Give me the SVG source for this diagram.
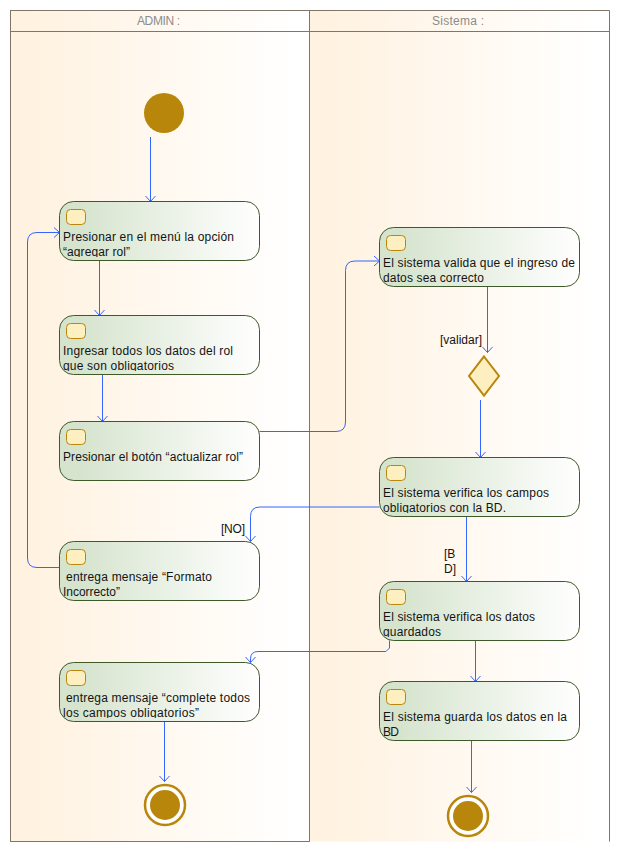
<svg xmlns="http://www.w3.org/2000/svg" width="620" height="852" viewBox="0 0 620 852">
<style>
.lane{stroke:#7f7568;stroke-width:1;fill:none}
.hd{font:12px "Liberation Sans",Arial,sans-serif;fill:#8c8c8c}
.t{font:12px "Liberation Sans",Arial,sans-serif;fill:#141414}
.box{fill:url(#ng);stroke:#3f5a2a;stroke-width:1}
.ic{fill:#feefc0;stroke:#b8860b;stroke-width:1}
.c{fill:none;stroke:#3366ff;stroke-width:1;marker-end:url(#a)}
.bl{fill:#b8860b}
</style>
<defs>
<linearGradient id="lg" gradientUnits="objectBoundingBox" x1="0" y1="0" x2="1" y2="0"><stop offset="0.05" stop-color="#fff2e0"/><stop offset="0.95" stop-color="#ffffff"/></linearGradient>
<linearGradient id="ng" x1="0" y1="0" x2="1" y2="0"><stop offset="0.1" stop-color="#d6e4ce"/><stop offset="1" stop-color="#ffffff"/></linearGradient>
<marker id="a" markerUnits="userSpaceOnUse" markerWidth="14" markerHeight="14" refX="6.5" refY="6.5" orient="auto"><path d="M1 1.5L6.5 6.5L1 11.5" fill="none" stroke="#3366ff" stroke-width="1"/></marker>
<clipPath id="c1"><rect x="59.5" y="201.5" width="200" height="55.5"/></clipPath>
<clipPath id="c2"><rect x="59.5" y="315.5" width="200" height="55.5"/></clipPath>
<clipPath id="c4"><rect x="59.5" y="541.5" width="200" height="59"/></clipPath>
<clipPath id="c5"><rect x="59.5" y="662.5" width="200" height="55.5"/></clipPath>
<clipPath id="s2c"><rect x="379.5" y="457.5" width="200" height="55.5"/></clipPath>
<clipPath id="s3c"><rect x="379.5" y="581.5" width="200" height="55.5"/></clipPath>
</defs>
<g id="lane-admin">
<rect x="10.5" y="10.5" width="299" height="831" fill="url(#lg)"/>
<rect class="lane" x="10.5" y="10.5" width="299" height="831"/>
<path class="lane" d="M10.5 31.5H309.5"/>
<text class="hd" x="137" y="25" textLength="43">ADMIN :</text>
</g>
<g id="lane-sistema">
<rect x="309.5" y="10.5" width="300" height="831" fill="url(#lg)"/>
<path class="lane" d="M309.5 10.5H609.5V841.5M309.5 31.5H609.5M309.5 10.5V841.5"/>
<text class="hd" x="432" y="25" textLength="52">Sistema :</text>
</g>
<g id="connectors">
<path class="c" d="M150.5 137V201.5"/>
<path class="c" d="M99.5 260.5V315.5"/>
<path class="c" d="M102.5 374.5V421.5"/>
<path class="c" d="M259.5 431.5H336Q345.5 431.5 345.5 422V270.5Q345.5 261 355 261H379.5"/>
<path class="c" d="M487.5 286.5V352.5"/>
<path class="c" d="M480.5 400V457.5"/>
<path class="c" d="M379.5 507H260Q250.5 507 250.5 516.5V541.5"/>
<path class="c" d="M466.5 516.5V581.5"/>
<path class="c" d="M389.5 640.5V648L386 651.5H258Q250.5 651.5 250.5 659V662.5"/>
<path class="c" d="M475.5 640.5V681.5"/>
<path class="c" d="M471.5 740.5V792.5"/>
<path class="c" d="M59.5 567.5H37Q27.5 567.5 27.5 558V242Q27.5 232.5 37 232.5H59.5"/>
<path class="c" d="M164.5 721.5V781.5"/>
</g>
<g id="start"><circle class="bl" cx="164" cy="113" r="20"/></g>
<g id="n1"><rect class="box" x="59.5" y="201.5" width="200" height="59" rx="14"/><rect class="ic" x="66.5" y="209.5" width="19" height="15" rx="4"/>
<g clip-path="url(#c1)"><text class="t" x="63" y="241" textLength="171">Presionar en el menú la opción</text><text class="t" x="63" y="256" textLength="67">“agregar rol”</text></g></g>
<g id="n2"><rect class="box" x="59.5" y="315.5" width="200" height="59" rx="14"/><rect class="ic" x="66.5" y="323.5" width="19" height="15" rx="4"/>
<g clip-path="url(#c2)"><text class="t" x="63" y="355" textLength="170">Ingresar todos los datos del rol</text><text class="t" x="63" y="370" textLength="111">que son obligatorios</text></g></g>
<g id="n3"><rect class="box" x="59.5" y="421.5" width="200" height="59" rx="14"/><rect class="ic" x="66.5" y="429.5" width="19" height="15" rx="4"/>
<text class="t" x="63" y="461" textLength="180">Presionar el botón “actualizar rol”</text></g>
<g id="n4"><rect class="box" x="59.5" y="541.5" width="200" height="59" rx="14"/><rect class="ic" x="66.5" y="549.5" width="19" height="15" rx="4"/>
<g clip-path="url(#c4)"><text class="t" x="66" y="581" textLength="146">entrega mensaje “Formato</text><text class="t" x="63" y="596" textLength="57">Incorrecto”</text></g></g>
<g id="n5"><rect class="box" x="59.5" y="662.5" width="200" height="59" rx="14"/><rect class="ic" x="66.5" y="670.5" width="19" height="15" rx="4"/>
<g clip-path="url(#c5)"><text class="t" x="66" y="702" textLength="184">entrega mensaje “complete todos</text><text class="t" x="63" y="717" textLength="136">los campos obligatorios”</text></g></g>
<g id="end1"><circle cx="165" cy="805" r="20" fill="#fff" stroke="#b8860b" stroke-width="2.5"/><circle class="bl" cx="165" cy="805" r="15"/></g>
<g id="s1"><rect class="box" x="379.5" y="227.5" width="200" height="59" rx="14"/><rect class="ic" x="386.5" y="235.5" width="19" height="15" rx="4"/>
<text class="t" x="383" y="267" textLength="192">El sistema valida que el ingreso de</text><text class="t" x="383" y="282" textLength="101">datos sea correcto</text></g>
<g id="decision"><path d="M484 356.5L499 376L484 395.5L469 376Z" fill="#feefc0" stroke="#b8860b" stroke-width="2"/></g>
<g id="s2"><rect class="box" x="379.5" y="457.5" width="200" height="59" rx="14"/><rect class="ic" x="386.5" y="465.5" width="19" height="15" rx="4"/>
<g clip-path="url(#s2c)"><text class="t" x="383" y="497" textLength="166">El sistema verifica los campos</text><text class="t" x="383" y="512" textLength="123">obligatorios con la BD.</text></g></g>
<g id="s3"><rect class="box" x="379.5" y="581.5" width="200" height="59" rx="14"/><rect class="ic" x="386.5" y="589.5" width="19" height="15" rx="4"/>
<g clip-path="url(#s3c)"><text class="t" x="383" y="621" textLength="152">El sistema verifica los datos</text><text class="t" x="383" y="636" textLength="58">guardados</text></g></g>
<g id="s4"><rect class="box" x="379.5" y="681.5" width="200" height="59" rx="14"/><rect class="ic" x="386.5" y="689.5" width="19" height="15" rx="4"/>
<text class="t" x="383" y="721" textLength="184">El sistema guarda los datos en la</text><text class="t" x="383" y="736" textLength="16">BD</text></g>
<g id="end2"><circle cx="468" cy="816" r="20" fill="#fff" stroke="#b8860b" stroke-width="2.5"/><circle class="bl" cx="468" cy="816" r="15"/></g>
<g id="labels">
<text class="t" x="440" y="344" textLength="42">[validar]</text>
<text class="t" x="221" y="533" textLength="24">[NO]</text>
<text class="t" x="444" y="558">[B</text>
<text class="t" x="444" y="573">D]</text>
</g>
</svg>
